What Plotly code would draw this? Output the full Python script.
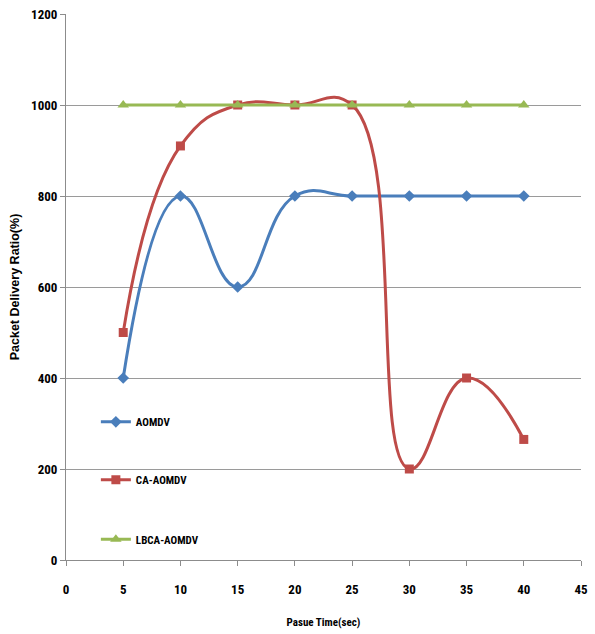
import plotly.graph_objects as go

pause_time = [5, 10, 15, 20, 25, 30, 35, 40]
aomdv = [400, 800, 600, 800, 800, 800, 800, 800]
ca_aomdv = [500, 910, 1000, 1000, 1000, 200, 400, 265]
lbca_aomdv = [1000, 1000, 1000, 1000, 1000, 1000, 1000, 1000]

FONT = "Liberation Sans Narrow, Roboto Condensed, Arial Narrow, sans-serif"
WIDE_FONT = "Liberation Sans, Arial, sans-serif"

series = [
    ("AOMDV", aomdv, "#4A7EBB", "diamond", 9, "legend"),
    ("CA-AOMDV", ca_aomdv, "#BE4B48", "square", 9, "legend2"),
    ("LBCA-AOMDV", lbca_aomdv, "#98B954", "triangle-up", 10, "legend3"),
]

fig = go.Figure()
for name, vals, color, symbol, size, leg in series:
    fig.add_trace(go.Scatter(
        x=pause_time, y=vals, name=name, mode="lines+markers",
        line=dict(color=color, width=3, shape="spline", smoothing=1.3),
        marker=dict(symbol=symbol, size=size, color=color),
        legend=leg, showlegend=True,
    ))

legend_common = dict(
    visible=True,
    bgcolor="rgba(0,0,0,0)", borderwidth=0,
    font=dict(family=FONT, size=11, color="black", weight="bold"),
    itemwidth=30, xanchor="left", yanchor="middle", x=0.058,
)

fig.update_layout(
    width=595, height=634,
    showlegend=True,
    margin=dict(l=66, r=14, t=14, b=74, autoexpand=False),
    paper_bgcolor="white", plot_bgcolor="white",
    font=dict(family=FONT, size=12, color="black"),
    legend=dict(**legend_common, y=0.253),
    legend2=dict(**legend_common, y=0.147),
    legend3=dict(**legend_common, y=0.038),
    xaxis=dict(
        range=[0, 45], dtick=5, tick0=0, showgrid=False,
        showline=True, linecolor="#8c8c8c", linewidth=1,
        ticks="outside", ticklen=5, tickcolor="#8c8c8c",
        ticklabelstandoff=12,
        tickfont=dict(family=FONT, size=13, color="black", weight="bold"),
        title=dict(text="<b>Pasue Time(sec)</b>", font=dict(family=FONT, size=11), standoff=22),
        zeroline=False, automargin=False,
    ),
    yaxis=dict(
        range=[0, 1200], dtick=200, showgrid=True, gridcolor="#9a9a9a", gridwidth=1,
        showline=True, linecolor="#8c8c8c", linewidth=1,
        ticks="outside", ticklen=5, tickcolor="#8c8c8c",
        tickfont=dict(family=FONT, size=13, color="black", weight="bold"),
        title=dict(text="<b>Packet Delivery Ratio(%)</b>", font=dict(family=WIDE_FONT, size=12.5), standoff=8),
        zeroline=False, automargin=False,
    ),
)

fig.write_html("out.html")
